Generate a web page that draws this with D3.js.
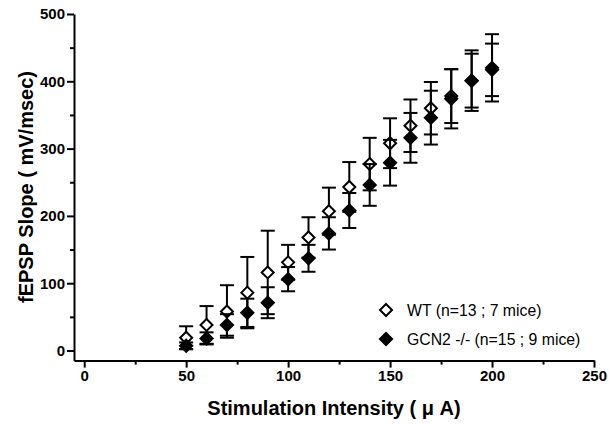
<!DOCTYPE html>
<html>
<head>
<meta charset="utf-8">
<script src="https://cdn.jsdelivr.net/npm/d3@7"></script>
<style>
  body { margin: 0; background: #fff; }
  svg { display: block; font-family: "Liberation Sans", Arial, sans-serif; }
</style>
</head>
<body>
<div class="chart"></div>
<script>
// stimulation intensities (uA)
const intensity = [50, 60, 70, 80, 90, 100, 110, 120, 130, 140, 150, 160, 170, 180, 190, 200];
// WT mean / sem
const wtMean = [19, 38, 58, 86, 116, 131, 168, 207, 243, 277, 308, 334, 360, 378, 401, 420];
const wtSem = [17, 28, 39, 53, 62, 26, 30, 35, 37, 39, 37, 39, 39, 40, 45, 50];
// GCN2 -/- mean / sem
const gcnMean = [7, 18, 38, 56, 71, 106, 137, 174, 208, 246, 279, 316, 346, 374, 401, 417];
const gcnSem = [5, 9, 16, 21, 23, 18, 20, 24, 26, 31, 34, 37, 40, 44, 40, 39];

const xMajor = [0, 50, 100, 150, 200, 250];
const xMinor = [25, 75, 125, 175, 225];
const yMajor = [0, 100, 200, 300, 400, 500];
const yMinor = [50, 150, 250, 350, 450];

const seriesNames = ["WT (n=13 ; 7 mice)", "GCN2 -/- (n=15 ; 9 mice)"];

const W = 609, H = 426;
const svg = d3.select(".chart").append("svg")
    .attr("width", W)
    .attr("height", H);

const x = d3.scaleLinear().domain([-5, 250]).range([74, 594]);
const y = d3.scaleLinear().domain([-15, 500]).range([360.6, 14]);

const axisY = x(-5), axisX = y(-15);

// Y axis
const gy = svg.append("g").attr("transform", "translate(" + axisY + ",0)");
gy.call(d3.axisLeft(y).tickValues(yMajor).tickSize(7).tickSizeOuter(0).tickPadding(2));
gy.append("g").call(d3.axisLeft(y).tickValues(yMinor).tickSize(4).tickFormat("").tickSizeOuter(0))
    .select(".domain").remove();

// X axis
const gx = svg.append("g").attr("transform", "translate(0," + axisX + ")");
gx.call(d3.axisBottom(x).tickValues(xMajor).tickSize(7).tickSizeOuter(0).tickPadding(3));
gx.append("g").call(d3.axisBottom(x).tickValues(xMinor).tickSize(4).tickFormat("").tickSizeOuter(0))
    .select(".domain").remove();

svg.selectAll(".domain, .tick line")
    .attr("stroke", "#000")
    .attr("stroke-width", 2);
svg.selectAll(".tick text")
    .attr("fill", "#000")
    .style("font-size", "15px")
    .style("font-weight", "bold")
    .style("font-family", "'Liberation Sans', Arial, sans-serif");

// axis titles
svg.append("text")
    .attr("x", 334).attr("y", 415)
    .attr("text-anchor", "middle")
    .style("font-size", "20px").style("font-weight", "bold")
    .text("Stimulation Intensity ( \u03BC A)");

svg.append("text")
    .attr("transform", "translate(33,187) rotate(-90)")
    .attr("text-anchor", "middle")
    .style("font-size", "20px").style("font-weight", "bold")
    .text("fEPSP Slope ( mV/msec)");

const diamond = (r) => "M0," + (-r) + "L" + r + ",0L0," + r + "L" + (-r) + ",0Z";

function drawSeries(means, sems, filled) {
    const data = intensity.map((v, i) => ({ x: v, m: means[i], s: sems[i] }));
    const g = svg.append("g");
    const bars = g.selectAll(".err").data(data).enter().append("g")
        .attr("stroke", "#000").attr("stroke-width", 2);
    bars.append("line")
        .attr("x1", d => x(d.x)).attr("x2", d => x(d.x))
        .attr("y1", d => y(d.m - d.s)).attr("y2", d => y(d.m + d.s));
    bars.append("line")
        .attr("x1", d => x(d.x) - 7).attr("x2", d => x(d.x) + 7)
        .attr("y1", d => y(d.m + d.s)).attr("y2", d => y(d.m + d.s));
    bars.append("line")
        .attr("x1", d => x(d.x) - 7).attr("x2", d => x(d.x) + 7)
        .attr("y1", d => y(d.m - d.s)).attr("y2", d => y(d.m - d.s));
    g.selectAll(".pt").data(data).enter().append("path")
        .attr("transform", d => "translate(" + x(d.x) + "," + y(d.m) + ")")
        .attr("d", filled ? diamond(7.5) : diamond(6))
        .attr("fill", filled ? "#000" : "#fff")
        .attr("stroke", filled ? "none" : "#000")
        .attr("stroke-width", 2);
}

drawSeries(wtMean, wtSem, false);
drawSeries(gcnMean, gcnSem, true);

// legend
const legend = svg.append("g");
seriesNames.forEach((name, i) => {
    const ly = 310 + i * 29;
    legend.append("path")
        .attr("transform", "translate(386," + ly + ")")
        .attr("d", i === 0 ? diamond(6) : diamond(7.5))
        .attr("fill", i === 0 ? "#fff" : "#000")
        .attr("stroke", i === 0 ? "#000" : "none")
        .attr("stroke-width", 2);
    legend.append("text")
        .attr("x", 407).attr("y", ly + 6)
        .style("font-size", "15.8px")
        .text(name);
});
</script>
</body>
</html>
